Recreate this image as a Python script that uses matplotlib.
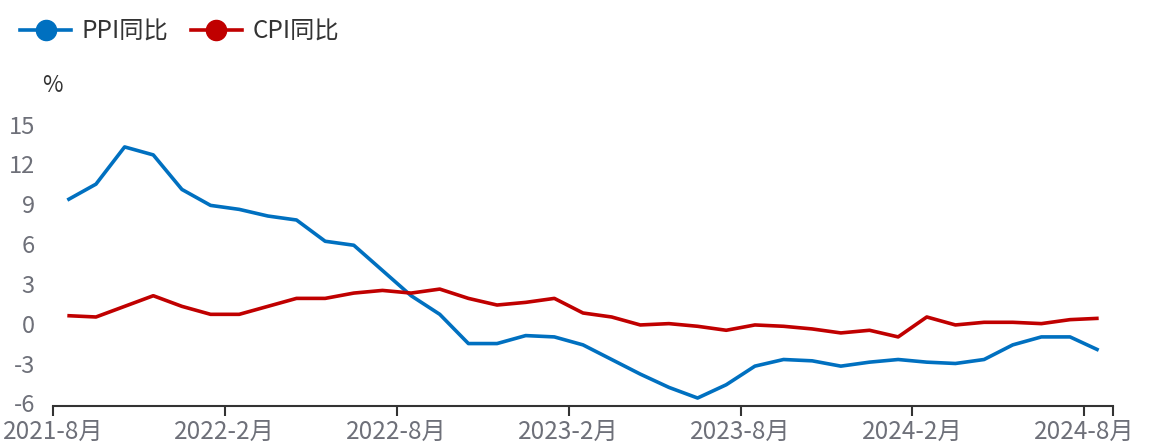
import matplotlib
matplotlib.use("Agg")
import matplotlib.pyplot as plt
from matplotlib.lines import Line2D
import numpy as np

plt.rcParams['font.family'] = ['Noto Sans CJK SC', 'DejaVu Sans']

months = (["2021-%d月" % m for m in range(8, 13)] +
          ["2022-%d月" % m for m in range(1, 13)] +
          ["2023-%d月" % m for m in range(1, 13)] +
          ["2024-%d月" % m for m in range(1, 9)])
ppi = [9.5, 10.7, 13.5, 12.9, 10.3,
       9.1, 8.8, 8.3, 8.0, 6.4, 6.1, 4.2, 2.3, 0.9, -1.3, -1.3, -0.7,
       -0.8, -1.4, -2.5, -3.6, -4.6, -5.4, -4.4, -3.0, -2.5, -2.6, -3.0, -2.7,
       -2.5, -2.7, -2.8, -2.5, -1.4, -0.8, -0.8, -1.8]
cpi = [0.8, 0.7, 1.5, 2.3, 1.5,
       0.9, 0.9, 1.5, 2.1, 2.1, 2.5, 2.7, 2.5, 2.8, 2.1, 1.6, 1.8,
       2.1, 1.0, 0.7, 0.1, 0.2, 0.0, -0.3, 0.1, 0.0, -0.2, -0.5, -0.3,
       -0.8, 0.7, 0.1, 0.3, 0.3, 0.2, 0.5, 0.6]
yticks = [-6, -3, 0, 3, 6, 9, 12, 15]
series_names = ["PPI同比", "CPI同比"]
colors = ["#0070C0", "#C00000"]

fig = plt.figure(figsize=(11.52, 4.45), dpi=100)
ax = fig.add_axes([53/1152, 39/445, 1060/1152, 279/445])

x = np.arange(len(months)) + 0.5
ax.plot(x, ppi, color=colors[0], lw=2.6, solid_joinstyle='round', solid_capstyle='butt')
ax.plot(x, cpi, color=colors[1], lw=2.6, solid_joinstyle='round', solid_capstyle='butt')

ax.set_xlim(0, len(months))
ax.set_ylim(-6, 15)
ax.set_yticks(yticks)
ax.set_yticklabels([str(v) for v in yticks])
tick_pos = list(range(0, len(months), 6)) + [len(months)]
ax.set_xticks(tick_pos)
ax.set_xticklabels([months[i] for i in range(0, len(months), 6)] + [""])

for s in ['top', 'right', 'left']:
    ax.spines[s].set_visible(False)
ax.spines['bottom'].set_color('#333333')
ax.spines['bottom'].set_linewidth(1.5)
ax.tick_params(axis='x', length=7, width=1.5, color='#333333', labelcolor='#6E7079',
               labelsize=17.5, pad=2)
ax.tick_params(axis='y', length=0, labelcolor='#6E7079', labelsize=17, pad=13)
for lbl in ax.get_yticklabels():
    lbl.set_verticalalignment('center')
    lbl.set_y(lbl.get_position()[1])

fig.text(52/1152, 1 - 86/445, "%", fontsize=16, color='#333333', ha='center', va='center')

handles = [Line2D([0], [0], color=c, lw=2.6, marker='o', markersize=14.5,
                  markerfacecolor=c, markeredgecolor=c) for c in colors]
leg = fig.legend(handles, series_names, loc='center left', bbox_to_anchor=(20/1152, 1 - 32/445),
                 ncol=2, frameon=False, fontsize=17.5, handlelength=2.1, handletextpad=0.45,
                 columnspacing=0.9, labelcolor='#333333', borderpad=0, borderaxespad=0)

fig.savefig("out.png", dpi=100)
